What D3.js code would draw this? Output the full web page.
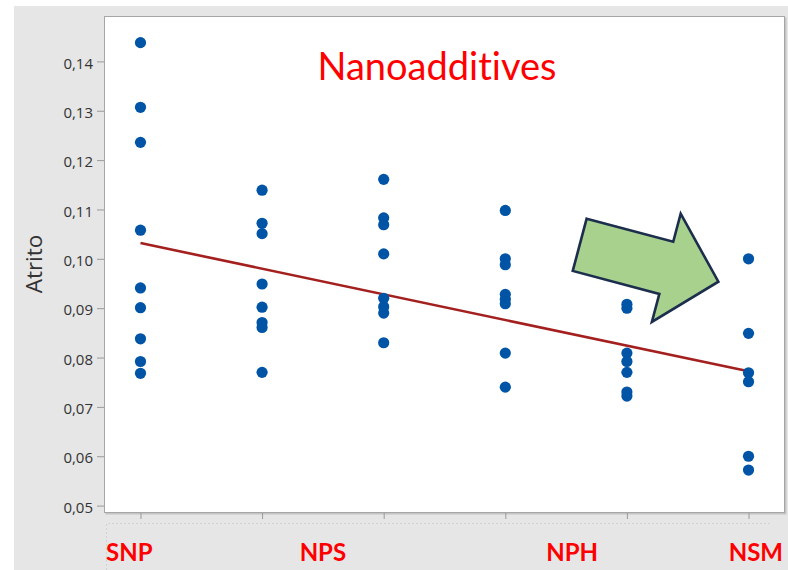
<!DOCTYPE html>
<html>
<head>
<meta charset="utf-8">
<script src="https://cdn.jsdelivr.net/npm/d3@7"></script>
<style>
  html, body { margin: 0; padding: 0; background: #ffffff; }
  svg { display: block; }
  text { font-variant-ligatures: none; font-feature-settings: "liga" 0, "clig" 0; }
</style>
</head>
<body>
<svg id="chart" width="788" height="570"></svg>
<script>
// Friction (Atrito) measured for six nanoadditive groups
const groups = [1, 2, 3, 4, 5, 6];
const group1 = [0.1438, 0.1307, 0.1236, 0.1058, 0.0941, 0.0901, 0.0838, 0.0792, 0.0768];
const group2 = [0.1139, 0.1072, 0.1051, 0.0949, 0.0902, 0.0871, 0.0861, 0.0770];
const group3 = [0.1161, 0.1083, 0.1069, 0.1010, 0.0920, 0.0903, 0.0890, 0.0830];
const group4 = [0.1098, 0.1000, 0.0988, 0.0928, 0.0918, 0.0909, 0.0809, 0.0740];
const group5 = [0.0908, 0.0900, 0.0809, 0.0792, 0.0770, 0.0730, 0.0722];
const group6 = [0.1000, 0.0849, 0.0769, 0.0751, 0.0600, 0.0572];
const groupValues = [group1, group2, group3, group4, group5, group6];

// Fitted trend line, value at first and last group
const trendValues = [0.1032, 0.0772];

const yTicks = [0.05, 0.06, 0.07, 0.08, 0.09, 0.10, 0.11, 0.12, 0.13, 0.14];
const groupNames = ["SNP", "NPS", "NPH", "NSM"];
const titleText = "Nanoadditives";
const yTitle = "Atrito";

const svg = d3.select("#chart");
const W = 788, H = 570;
const plot = { left: 104, top: 16, right: 785, bottom: 513 };

// Grey panel background
svg.append("rect")
  .attr("x", 14).attr("y", 6).attr("width", W - 14).attr("height", H - 6)
  .attr("fill", "#e6e6e6");

// Faint dotted outline of the label strip under the axis
svg.append("path")
  .attr("d", `M106.5,570 V523.5 H772`)
  .attr("fill", "none").attr("stroke", "#d2d2d2")
  .attr("stroke-width", 1).attr("stroke-dasharray", "2,2");

// Plot area with a soft shadow
svg.append("rect")
  .attr("x", plot.left + 1.5).attr("y", plot.top + 1.5)
  .attr("width", plot.right - plot.left).attr("height", plot.bottom - plot.top)
  .attr("fill", "#c4c4c4");
svg.append("rect")
  .attr("x", plot.left + 0.5).attr("y", plot.top + 0.5)
  .attr("width", plot.right - plot.left - 1).attr("height", plot.bottom - plot.top - 1)
  .attr("fill", "#ffffff").attr("stroke", "#a6a6a6").attr("stroke-width", 1);

const x = d3.scalePoint()
  .domain(groups)
  .range([plot.left, plot.right])
  .padding(0.3);

const y = d3.scaleLinear()
  .domain([0.0485, 0.1492])
  .range([plot.bottom, plot.top]);

const fmt = v => d3.format(".2f")(v).replace(".", ",");

// Y axis ticks and labels
const yAxis = svg.append("g")
  .attr("transform", `translate(${plot.left},0)`)
  .call(d3.axisLeft(y).tickValues(yTicks).tickFormat(fmt).tickSize(7).tickPadding(4));
yAxis.select(".domain").remove();
yAxis.selectAll(".tick line").attr("stroke", "#9a9a9a");
yAxis.selectAll(".tick text")
  .attr("font-family", "'Open Sans', sans-serif")
  .attr("font-size", 15)
  .attr("fill", "#333333")
  .attr("dy", "0.45em");

// X axis tick marks (no labels)
const xAxis = svg.append("g")
  .attr("transform", `translate(0,${plot.bottom})`)
  .call(d3.axisBottom(x).tickSize(6).tickFormat(""));
xAxis.select(".domain").remove();
xAxis.selectAll(".tick line").attr("stroke", "#9a9a9a");

// Y axis title
svg.append("text")
  .attr("transform", `translate(42,264) rotate(-90)`)
  .attr("text-anchor", "middle")
  .attr("font-family", "'Open Sans', sans-serif")
  .attr("font-size", 22.5)
  .attr("fill", "#333333")
  .text(yTitle);

// Trend line
const line = d3.line()
  .x((d, i) => x(groups[i === 0 ? 0 : groups.length - 1]))
  .y(d => y(d));
svg.append("path")
  .datum(trendValues)
  .attr("d", line)
  .attr("fill", "none")
  .attr("stroke", "#a3201f")
  .attr("stroke-width", 2.6);

// Data points
const points = groups.flatMap((g, i) => groupValues[i].map(v => ({ g, v })));
svg.append("g")
  .selectAll("circle")
  .data(points)
  .join("circle")
  .attr("cx", d => x(d.g))
  .attr("cy", d => y(d.v))
  .attr("r", 5.6)
  .attr("fill", "#0054a6");

// Title
svg.append("text")
  .attr("x", 437).attr("y", 80)
  .attr("text-anchor", "middle")
  .attr("font-family", "Lato, 'Open Sans', sans-serif")
  .attr("font-size", 38)
  .attr("fill", "#ff0000")
  .text(titleText);

// Block arrow pointing down-right
const arrowShape = [[0, -27], [89.6, -27], [89.6, -56], [143.5, 0], [89.6, 56], [89.6, 27], [0, 27]];
svg.append("path")
  .attr("transform", "translate(579.7,244.8) rotate(14.9)")
  .attr("d", "M" + arrowShape.map(p => p.join(",")).join("L") + "Z")
  .attr("fill", "#a9d18e")
  .attr("stroke", "#1c2e4d")
  .attr("stroke-width", 2.6)
  .attr("stroke-linejoin", "miter");

// Group labels along the bottom
const labelPos = [
  { x: plot.left + 2, anchor: "start" },
  { x: (x(groups[1]) + x(groups[2])) / 2, anchor: "middle" },
  { x: (x(groups[3]) + x(groups[4])) / 2 + 6, anchor: "middle" },
  { x: 783, anchor: "end" }
];
svg.append("g")
  .selectAll("text")
  .data(groupNames)
  .join("text")
  .attr("x", (d, i) => labelPos[i].x)
  .attr("y", 561)
  .attr("text-anchor", (d, i) => labelPos[i].anchor)
  .attr("font-family", "Lato, 'Open Sans', sans-serif")
  .attr("font-weight", "bold")
  .attr("font-size", 24)
  .attr("fill", "#ff0000")
  .text(d => d);
</script>
</body>
</html>
